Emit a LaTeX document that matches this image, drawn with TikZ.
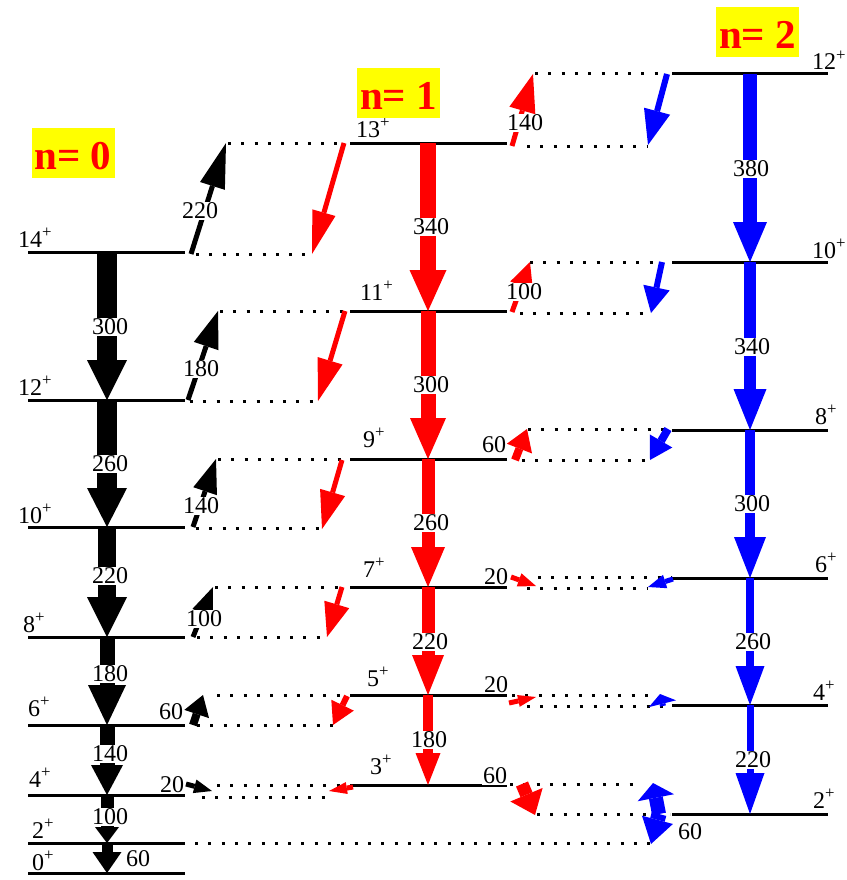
\documentclass[tikz,border=0pt]{standalone}
\usepackage{fontspec}
\setmainfont{Liberation Serif}
\usetikzlibrary{calc}

\definecolor{bandred}{RGB}{255,0,0}
\definecolor{bandblue}{RGB}{0,0,255}
\definecolor{tagyellow}{RGB}{255,255,0}

% Thick transition arrow: colour, name, start, tip, shaft width, head length, half head width
\newcommand\bandarrow[7]{%
  \coordinate (#2-s) at #3;
  \coordinate (#2-t) at #4;
  \coordinate (#2-b) at ($(#2-t)!#6pt!(#2-s)$);
  \draw[#1, line width=#5pt] (#2-s) -- (#2-b);
  \fill[#1] (#2-t) -- ($(#2-b)!#7pt!90:(#2-t)$) -- ($(#2-b)!#7pt!-90:(#2-t)$) -- cycle;
}

\begin{document}
\begin{tikzpicture}[x=1pt,y=-1pt,
  lvl/.style={line width=3pt},
  guide/.style={line width=3pt, dash pattern=on 3pt off 10.3pt},
  lab/.style={font=\fontsize{24}{26}\selectfont, fill=white, inner sep=1pt},
  spin/.style={font=\fontsize{24}{26}\selectfont, inner sep=0pt, anchor=base west},
  tag/.style={fill=tagyellow, text=bandred, font=\fontsize{41}{43}\selectfont\bfseries,
    minimum width=83pt, minimum height=50pt, inner sep=0pt, text height=33pt, text depth=0pt}]
\useasboundingbox (0,0) rectangle (846,880);

% ---- level lines ----
\foreach \nm/\y in {14/252,12/400,10/527,8/637,6/725,4/795,2/843,0/873}
  {\coordinate (g\nm l) at (28,\y); \coordinate (g\nm r) at (185,\y);
   \draw[lvl] (g\nm l) -- (g\nm r);}
\foreach \nm/\y in {13/143,11/311,9/459,7/587,5/695,3/785}
  {\coordinate (e\nm l) at (350,\y); \coordinate (e\nm r) at (507,\y);
   \draw[lvl] (e\nm l) -- (e\nm r);}
\foreach \nm/\y in {12/74,10/262,8/430,6/578,4/705,2/814}
  {\coordinate (s\nm l) at (672,\y); \coordinate (s\nm r) at (828,\y);
   \draw[lvl] (s\nm l) -- (s\nm r);}

% ---- dotted guides between the bands ----
\foreach \i/\y/\xa/\xb in {1/143/228/344, 2/254/196/312, 3/311/220/345, 4/401/190/318,
    5/459/218/345, 6/528/196/322, 7/587/215/342, 8/637/197/327, 9/695/217/347,
    10/725/197/333, 11/785/217/347, 12/797/202/330, 13/843/195/651,
    14/74/535/667, 15/146/527/648, 16/262/530/662, 17/313/520/651, 18/429/528/668,
    19/460/522/650, 20/577/538/672, 21/588/527/648, 22/695/512/655, 23/706/527/672,
    24/784/510/642, 25/814/537/670}
  {\coordinate (d\i a) at (\xa,\y); \coordinate (d\i b) at (\xb,\y);
   \draw[guide] (d\i a) -- (d\i b);}

% ---- in-band cascades ----
\bandarrow{black}{g14}{(107,252)}{(107,400)}{20}{40}{20}
\bandarrow{black}{g12}{(107,400)}{(107,527)}{20}{39}{20}
\bandarrow{black}{g10}{(107,527)}{(107,637)}{18}{40}{20}
\bandarrow{black}{g8}{(107,637)}{(107,725)}{15}{40}{19}
\bandarrow{black}{g6}{(107,725)}{(107,795)}{15}{30}{16}
\bandarrow{black}{g4}{(107,795)}{(107,843)}{13}{16}{12}
\bandarrow{black}{g2}{(107,843)}{(107,873)}{11}{21}{14.5}

\bandarrow{bandred}{e13}{(428,143)}{(428,311)}{16}{41}{18.5}
\bandarrow{bandred}{e11}{(428,311)}{(428,459)}{15}{41}{18}
\bandarrow{bandred}{e9}{(428,459)}{(428,587)}{13}{40}{17}
\bandarrow{bandred}{e7}{(428,587)}{(428,695)}{13}{40}{16}
\bandarrow{bandred}{e5}{(428,695)}{(428,785)}{10}{32}{12.5}

\bandarrow{bandblue}{s12}{(750,74)}{(750,262)}{14}{40}{17}
\bandarrow{bandblue}{s10}{(750,262)}{(750,430)}{12}{41}{16.5}
\bandarrow{bandblue}{s8}{(750,430)}{(750,578)}{10}{41}{16}
\bandarrow{bandblue}{s6}{(750,578)}{(750,705)}{8}{39}{14.5}
\bandarrow{bandblue}{s4}{(750,705)}{(750,814)}{7}{41}{14.5}

% ---- inter-band transitions ----
\bandarrow{black}{k1}{(191,254)}{(226,143)}{5}{45}{13}
\bandarrow{black}{k2}{(188,400)}{(218,311)}{5}{37}{13}
\bandarrow{black}{k3}{(193,527)}{(216,459)}{5}{34}{12.5}
\bandarrow{black}{k4}{(193,637)}{(213,587)}{5}{28}{11}
\bandarrow{black}{k5}{(193,725)}{(203,695)}{8}{20}{13}
\bandarrow{black}{k6}{(186,784)}{(212,791)}{5}{18}{7}

\bandarrow{bandred}{r1}{(344,143)}{(312,254)}{5}{43}{12}
\bandarrow{bandred}{r2}{(345,311)}{(318,401)}{5}{42}{13}
\bandarrow{bandred}{r3}{(342,460)}{(322,529)}{5}{38}{13}
\bandarrow{bandred}{r4}{(342,587)}{(327,637)}{5}{34}{13}
\bandarrow{bandred}{r5}{(347,696)}{(333,725)}{6}{22}{12.5}
\bandarrow{bandred}{r6}{(353,787)}{(329,791)}{5}{18}{6}
\bandarrow{bandred}{r7}{(512,146)}{(533,74)}{5}{38}{13.5}
\bandarrow{bandred}{r8}{(512,312)}{(530,262)}{5}{25}{12}
\bandarrow{bandred}{r9}{(515,460)}{(527,429)}{8}{21}{13.5}
\bandarrow{bandred}{r10}{(511,577)}{(536,586)}{5}{18}{7}
\bandarrow{bandred}{r11}{(509,703)}{(536,697)}{5}{18}{6}
\bandarrow{bandred}{r12}{(522,784)}{(535,815)}{13}{22}{17.5}

\bandarrow{bandblue}{b1}{(667,74)}{(648,145)}{6}{35}{13.5}
\bandarrow{bandblue}{b2}{(662,262)}{(651,313)}{6}{26}{13.5}
\bandarrow{bandblue}{b3}{(668,429)}{(650,460)}{8}{22}{13}
\bandarrow{bandblue}{b4}{(673,579)}{(648,587)}{5}{18}{7}
\bandarrow{bandblue}{b5}{(663,706)}{(660,694)}{6}{10}{14}
\bandarrow{bandblue}{b6}{(659,814)}{(653,783)}{14}{15}{18.5}
\bandarrow{bandblue}{b7}{(659,814)}{(651,844)}{15}{25}{16}

% ---- transition energies ----
\node[lab] (l300a) at (110,327) {300};
\node[lab] (l260a) at (110,464) {260};
\node[lab] (l220a) at (110,576) {220};
\node[lab] (l180a) at (110,674) {180};
\node[lab] (l140a) at (110,754) {140};
\node[lab] (l100a) at (110,817) {100};
\node[lab] (l60a)  at (138,859) {60};

\node[lab] (l340b) at (431,227) {340};
\node[lab] (l300b) at (431,385) {300};
\node[lab] (l260b) at (431,523) {260};
\node[lab] (l220b) at (430,642) {220};
\node[lab] (l180b) at (429,740) {180};

\node[lab] (l380c) at (751,169) {380};
\node[lab] (l340c) at (752,347) {340};
\node[lab] (l300c) at (752,504) {300};
\node[lab] (l260c) at (753,642) {260};
\node[lab] (l220c) at (753,760) {220};

\node[lab] (x220) at (200,211) {220};
\node[lab] (x180) at (201,369) {180};
\node[lab] (x140) at (201,506) {140};
\node[lab] (x100) at (204,619) {100};
\node[lab] (x60)  at (171,712) {60};
\node[lab] (x20)  at (172,785) {20};

\node[lab] (y140) at (525,123) {140};
\node[lab] (y100) at (524,292) {100};
\node[lab] (y60)  at (494,445) {60};
\node[lab] (y20a) at (496,577) {20};
\node[lab] (y20b) at (496,685) {20};
\node[lab] (y60b) at (495,776) {60};

\node[lab] (z60) at (690,832) {60};

% ---- spins ----
\node[spin] (p14) at (18,247) {14\textsuperscript{+}};
\node[spin] (p12) at (18,395) {12\textsuperscript{+}};
\node[spin] (p10) at (18,523) {10\textsuperscript{+}};
\node[spin] (p8)  at (23,632) {8\textsuperscript{+}};
\node[spin] (p6)  at (28,716) {6\textsuperscript{+}};
\node[spin] (p4)  at (29,787) {4\textsuperscript{+}};
\node[spin] (p2)  at (32,838) {2\textsuperscript{+}};
\node[spin] (p0)  at (32,870) {0\textsuperscript{+}};

\node[spin] (q13) at (356,137) {13\textsuperscript{+}};
\node[spin] (q11) at (360,300) {11\textsuperscript{+}};
\node[spin] (q9)  at (363,447) {9\textsuperscript{+}};
\node[spin] (q7)  at (363,577) {7\textsuperscript{+}};
\node[spin] (q5)  at (367,686) {5\textsuperscript{+}};
\node[spin] (q3)  at (370,774) {3\textsuperscript{+}};

\node[spin] (u12) at (812,70)  {12\textsuperscript{+}};
\node[spin] (u10) at (812,258) {10\textsuperscript{+}};
\node[spin] (u8)  at (815,424) {8\textsuperscript{+}};
\node[spin] (u6)  at (815,572) {6\textsuperscript{+}};
\node[spin] (u4)  at (813,700) {4\textsuperscript{+}};
\node[spin] (u2)  at (813,808) {2\textsuperscript{+}};

% ---- band tags ----
\node[tag] (t0) at (73,153) {n= 0};
\node[tag] (t1) at (398.5,93) {n= 1};
\node[tag] (t2) at (757.5,32) {n= 2};
\end{tikzpicture}
\end{document}
